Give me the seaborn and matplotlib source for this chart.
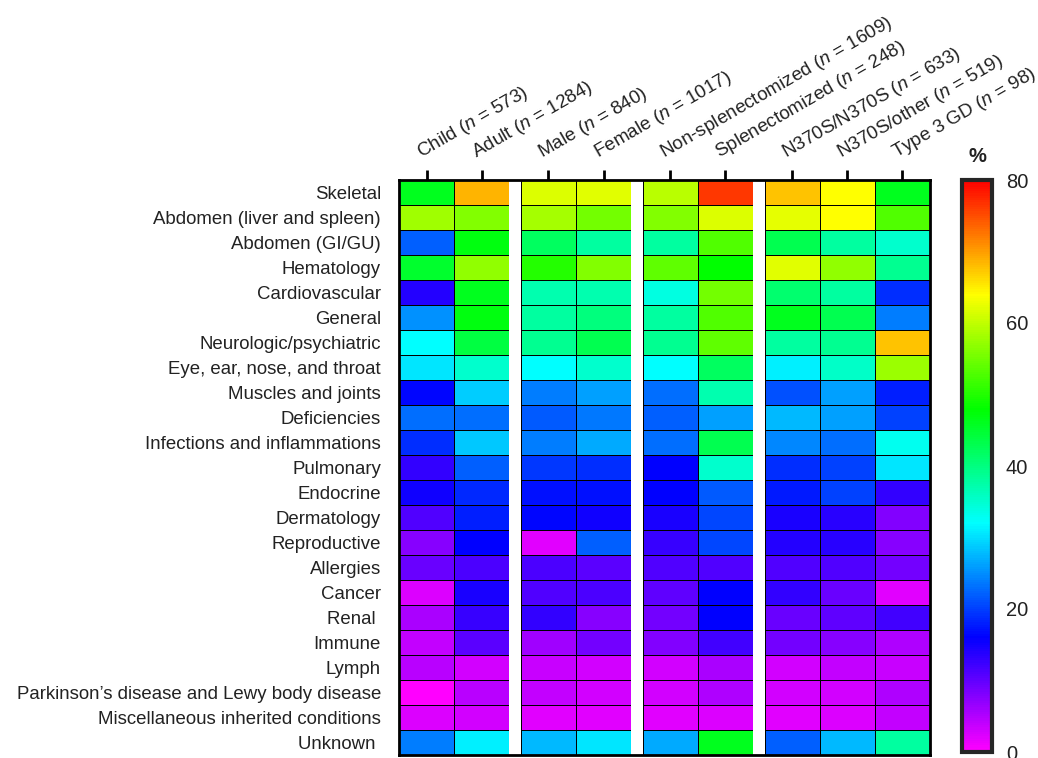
import matplotlib
matplotlib.use("Agg")
import matplotlib.pyplot as plt
import matplotlib.transforms as mtransforms
from matplotlib.colors import LinearSegmentedColormap
import numpy as np
import pandas as pd
import seaborn as sns

sns.set_style("white")
plt.rcParams['font.family'] = ['Liberation Sans', 'DejaVu Sans']
plt.rcParams['mathtext.fontset'] = 'custom'
plt.rcParams['mathtext.it'] = 'Liberation Sans:italic'
plt.rcParams['mathtext.rm'] = 'Liberation Sans'

# Data (percent of patients per body system)
systems = [
    "Skeletal", "Abdomen (liver and spleen)", "Abdomen (GI/GU)", "Hematology",
    "Cardiovascular", "General", "Neurologic/psychiatric",
    "Eye, ear, nose, and throat", "Muscles and joints", "Deficiencies",
    "Infections and inflammations", "Pulmonary", "Endocrine", "Dermatology",
    "Reproductive", "Allergies", "Cancer", "Renal ", "Immune", "Lymph",
    "Parkinson\u2019s disease and Lewy body disease",
    "Miscellaneous inherited conditions", "Unknown ",
]

groups = ["Child", "Adult", "Male", "Female", "Non-splenectomized",
          "Splenectomized", "N370S/N370S", "N370S/other", "Type 3 GD"]
group_n = [573, 1284, 840, 1017, 1609, 248, 633, 519, 98]
panels = [[0, 1], [2, 3], [4, 5], [6, 7, 8]]

child = [46, 58, 22, 45, 14, 25, 32, 30.6, 16.5, 23, 19, 13, 15, 11, 7.5, 9.5, 2.4, 5.5, 4, 4.5, 0, 2.4, 24]
adult = [68.5, 56, 47, 57, 46, 47, 44, 35, 29, 23, 28.5, 22, 18.5, 18, 16, 11.5, 14.5, 12.5, 10.4, 3, 4.5, 3, 31]
male = [61.6, 58.4, 42, 50, 37, 38, 39, 32, 24, 21.6, 24, 19.5, 17, 16.5, 1.9, 11.5, 11, 13, 6, 3.5, 4, 2, 27.5]
female = [62, 55, 38, 56, 37, 40, 43, 35, 26, 23.5, 26.6, 19, 17, 15, 22, 10.4, 11.5, 7.5, 9, 3, 3, 2, 30.6]
non_splen = [59.5, 56, 38, 54, 34, 38, 39, 32, 23, 22, 23, 16, 16, 14.5, 12.5, 11, 10, 9, 8, 3, 3, 2, 26.6]
splen = [76.5, 61.6, 53, 48, 55, 53, 54, 42, 37, 26, 43, 35, 21.6, 20.5, 20.5, 11, 16, 16, 12, 5.5, 5, 2.4, 46]
n370s_n370s = [67.5, 62.3, 43, 62, 41, 46, 38, 31, 21, 27.5, 24.5, 19, 17.5, 14.5, 14, 11, 13, 9.5, 9, 3, 3, 2, 22]
n370s_other = [64, 64, 38, 57, 38, 43, 39, 35.5, 26, 26, 23, 20, 20, 13.6, 13.6, 11, 9.5, 10, 7.5, 4, 3, 2.4, 27.5]
type3 = [46, 53, 35, 39, 19, 24, 67.5, 57.6, 18, 20, 33, 30.6, 13, 8, 7.5, 9, 2, 12, 5, 3.5, 5, 4, 38]

values = [child, adult, male, female, non_splen, splen, n370s_n370s, n370s_other, type3]
col_labels = [f"{g} ($\\it{{n}}$ = {n})" for g, n in zip(groups, group_n)]
df = pd.DataFrame(np.array(values).T, index=systems, columns=col_labels)

cmap = LinearSegmentedColormap.from_list(
    "prism_rainbow", ["#FF00FF", "#0000FF", "#00FFFF", "#00FF00", "#FFFF00", "#FF0000"])

# Layout (figure fractions)
W, H = 1038, 758
fig = plt.figure(figsize=(W / 100, H / 100), dpi=100)

x0, x1 = 399 / W, 930 / W
y_top, y_bot = 1 - 180 / H, 1 - 755 / H
gap_u = 0.21
total_u = 9 + gap_u * (len(panels) - 1)
cell_w = (x1 - x0) / total_u

centers = []
pos_u = 0
mesh = None
for p in panels:
    ax_p = fig.add_axes([x0 + pos_u * cell_w, y_bot, len(p) * cell_w, y_top - y_bot])
    sns.heatmap(df.iloc[:, p], ax=ax_p, cmap=cmap, vmin=0, vmax=80, cbar=False,
                linewidths=0.6, linecolor="black", xticklabels=False, yticklabels=False)
    ax_p.set_axis_off()
    mesh = ax_p.collections[0]
    centers += [pos_u + i + 0.5 for i in range(len(p))]
    pos_u += len(p) + gap_u

# Frame axis with ticks and labels
ax = fig.add_axes([x0, y_bot, x1 - x0, y_top - y_bot], facecolor="none")
ax.set_xlim(0, total_u)
ax.set_ylim(len(systems), 0)
for s in ax.spines.values():
    s.set_linewidth(2)
    s.set_color("black")
ax.xaxis.tick_top()
ax.set_xticks(centers)
ax.set_xticklabels(df.columns, rotation=30, ha="left", va="bottom",
                   rotation_mode="anchor", fontsize=13.6, color="#222222")
ax.set_yticks(np.arange(len(systems)) + 0.5)
ax.set_yticklabels(systems, fontsize=13.4, color="#222222")
ax.tick_params(axis="both", direction="out", length=7, width=2, color="black")
ax.tick_params(axis="x", pad=5)
ax.tick_params(axis="y", pad=6)
shift = mtransforms.ScaledTranslation(-3 / 100, 0, fig.dpi_scale_trans)
for lbl in ax.get_xticklabels():
    lbl.set_transform(lbl.get_transform() + shift)

# Colorbar
cax = fig.add_axes([962 / W, 1 - 752 / H, 30 / W, (752 - 180) / H])
cb = fig.colorbar(mesh, cax=cax, ticks=[0, 20, 40, 60, 80])
cb.outline.set_linewidth(3)
cax.tick_params(direction="in", left=True, right=True, length=4, width=2,
                labelsize=14.5, pad=10, labelcolor="#222222")
cax.text(0.5, 1.025, "%", transform=cax.transAxes, ha="center", va="bottom",
         fontsize=14.5, fontweight="bold", color="#222222")

fig.savefig("out.png", dpi=100)
